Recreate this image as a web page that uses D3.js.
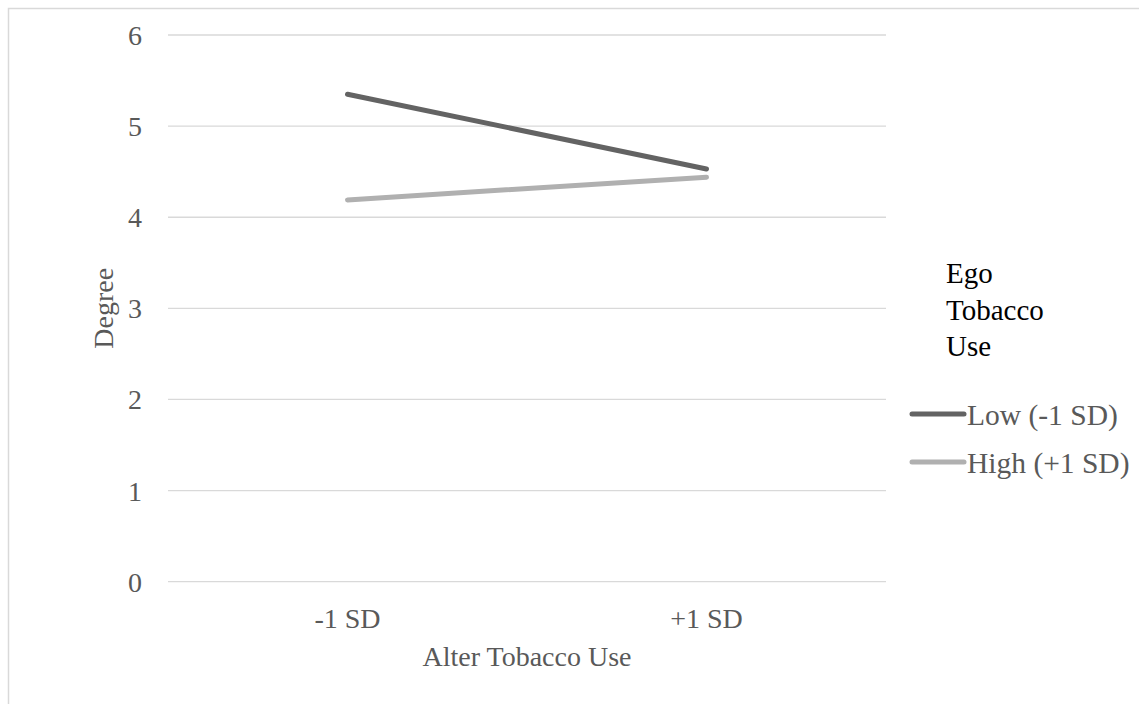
<!DOCTYPE html>
<html>
<head>
<meta charset="utf-8">
<script src="https://cdn.jsdelivr.net/npm/d3@7"></script>
<style>
  html, body { margin: 0; padding: 0; background: #fff; }
  svg { display: block; }
  text { font-family: "Liberation Serif", "Times New Roman", serif; }
</style>
</head>
<body>
<svg id="chart" width="1139" height="704"></svg>
<script>
const categories = ["-1 SD", "+1 SD"];
const seriesNames = ["Low (-1 SD)", "High (+1 SD)"];
const lowValues = [5.35, 4.53];
const highValues = [4.19, 4.44];
const yTicks = [0, 1, 2, 3, 4, 5, 6];
const xTitle = "Alter Tobacco Use";
const yTitle = "Degree";
const legendTitle = ["Ego", "Tobacco", "Use"];

const series = [
  { name: seriesNames[0], values: lowValues, color: "#636363" },
  { name: seriesNames[1], values: highValues, color: "#b0b0b0" }
];

const W = 1139, H = 704;
const plot = { left: 168, right: 886, top: 35, bottom: 581.7 };
const svg = d3.select("#chart");

// outer border
svg.append("rect").attr("x", 8.5).attr("y", 8.5).attr("width", W + 20).attr("height", H + 20)
  .attr("fill", "none").attr("stroke", "#d9d9d9").attr("stroke-width", 1.5);

const x = d3.scaleBand().domain(categories).range([plot.left, plot.right]);
const y = d3.scaleLinear().domain([0, 6]).range([plot.bottom, plot.top]);

// gridlines
svg.append("g").selectAll("line").data(yTicks).join("line")
  .attr("x1", plot.left).attr("x2", plot.right)
  .attr("y1", d => y(d)).attr("y2", d => y(d))
  .attr("stroke", "#d9d9d9").attr("stroke-width", 1.3);

// y axis labels
const yAxis = d3.axisLeft(y).tickValues(yTicks).tickSize(0).tickPadding(0).tickFormat(d3.format("d"));
const gy = svg.append("g").attr("transform", `translate(142,0)`).call(yAxis);
gy.select(".domain").remove();
gy.selectAll("text").attr("font-size", 28).attr("fill", "#595959")
  .attr("font-family", "Liberation Serif, serif").attr("dy", "0.34em");

// x axis labels
const xAxis = d3.axisBottom(x).tickSize(0).tickPadding(0);
const gx = svg.append("g").attr("transform", `translate(0,${plot.bottom})`).call(xAxis);
gx.select(".domain").remove();
gx.selectAll("text").attr("font-size", 28).attr("fill", "#595959")
  .attr("font-family", "Liberation Serif, serif").attr("dy", null).attr("y", 46);

// axis titles
svg.append("text").attr("x", (plot.left + plot.right) / 2).attr("y", 666)
  .attr("text-anchor", "middle").attr("font-size", 28).attr("fill", "#595959").text(xTitle);
svg.append("text").attr("transform", `translate(113,${(plot.top + plot.bottom) / 2}) rotate(-90)`)
  .attr("text-anchor", "middle").attr("font-size", 28).attr("fill", "#595959").text(yTitle);

// lines
const line = d3.line().x((d, i) => x(categories[i]) + x.bandwidth() / 2).y(d => y(d));
svg.append("g").selectAll("path").data(series.slice().reverse()).join("path")
  .attr("d", d => line(d.values))
  .attr("fill", "none").attr("stroke", d => d.color).attr("stroke-width", 5)
  .attr("stroke-linecap", "round").attr("stroke-linejoin", "round");

// legend
const lg = svg.append("g");
lg.selectAll("text.title").data(legendTitle).join("text").attr("class", "title")
  .attr("x", 946).attr("y", (d, i) => 283 + i * 36.5)
  .attr("font-size", 29).attr("fill", "#000").text(d => d);
const items = lg.selectAll("g.item").data(series).join("g").attr("class", "item")
  .attr("transform", (d, i) => `translate(0,${414 + i * 48})`);
items.append("line").attr("x1", 912).attr("x2", 964).attr("y1", 0).attr("y2", 0)
  .attr("stroke", d => d.color).attr("stroke-width", 5).attr("stroke-linecap", "round");
items.append("text").attr("x", 967).attr("y", 0).attr("dy", "0.36em")
  .attr("font-size", 29.5).attr("fill", "#595959").text(d => d.name);
</script>
</body>
</html>
